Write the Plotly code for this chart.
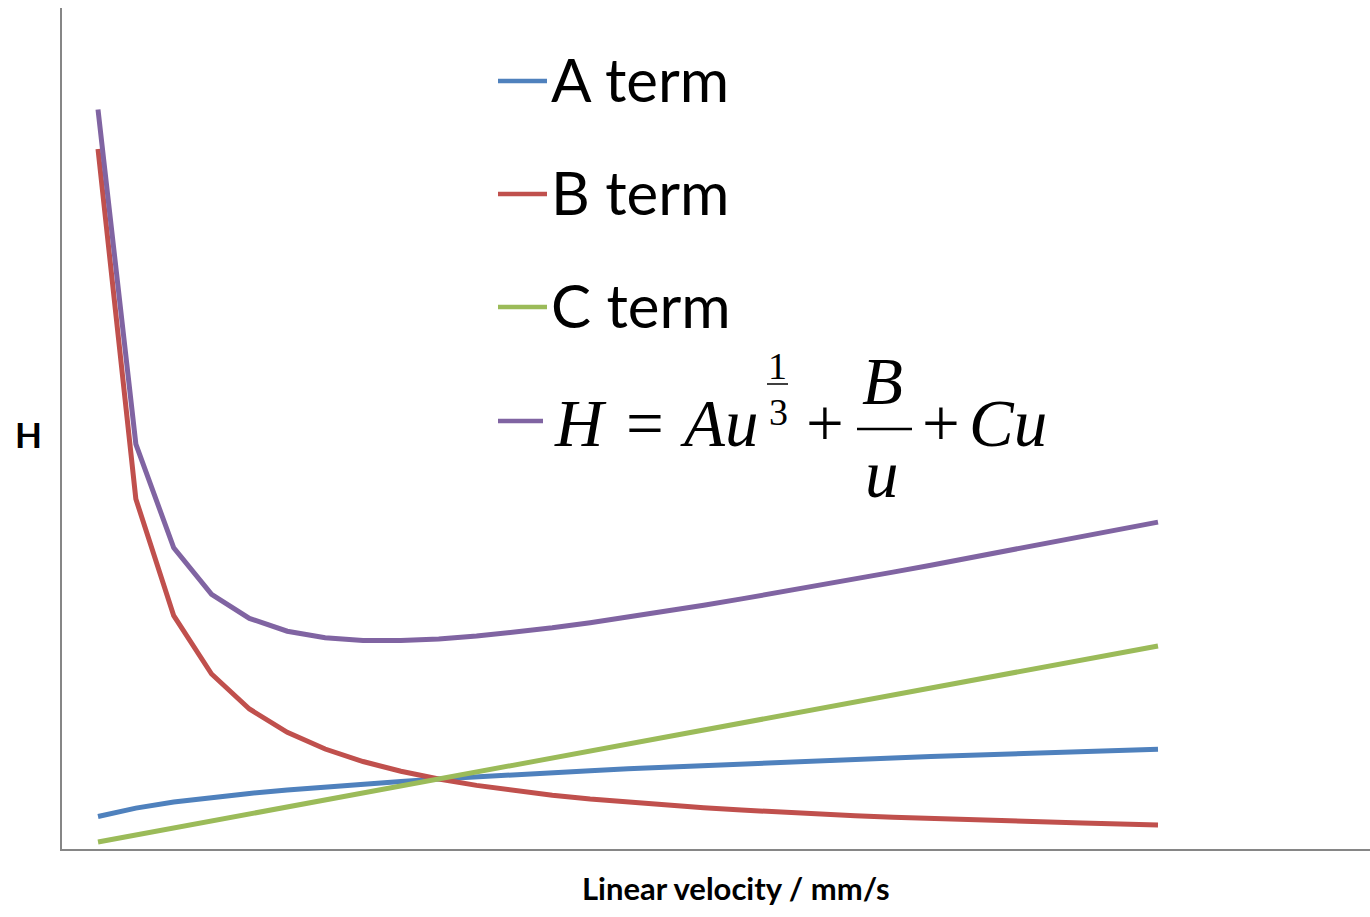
import plotly.graph_objects as go

# ---- data ----
velocity = list(range(1, 30))
a_term = [32.5, 40.9, 46.9, 51.6, 55.6, 59.1, 62.2, 65.0, 67.6, 70.0,
          72.3, 74.4, 76.4, 78.3, 80.2, 81.9, 83.6, 85.2, 86.7, 88.2,
          89.7, 91.1, 92.4, 93.7, 95.0, 96.3, 97.5, 98.7, 99.8]
b_term = [700.0, 350.0, 233.3, 175.0, 140.0, 116.7, 100.0, 87.5, 77.8, 70.0,
          63.6, 58.3, 53.8, 50.0, 46.7, 43.8, 41.2, 38.9, 36.8, 35.0,
          33.3, 31.8, 30.4, 29.2, 28.0, 26.9, 25.9, 25.0, 24.1]
c_term = [7, 14, 21, 28, 35, 42, 49, 56, 63, 70,
          77, 84, 91, 98, 105, 112, 119, 126, 133, 140,
          147, 154, 161, 168, 175, 182, 189, 196, 203]
h_total = [739.5, 404.9, 301.2, 254.6, 230.6, 217.8, 211.2, 208.5, 208.4, 210.0,
           212.9, 216.7, 221.2, 226.3, 231.9, 237.7, 243.8, 250.1, 256.5, 263.2,
           270.0, 276.9, 283.8, 290.9, 298.0, 305.2, 312.4, 319.7, 326.9]

series_names = ["A term", "B term", "C term", "H"]
series_colors = ["#4F81BD", "#C0504D", "#9BBB59", "#8064A2"]

W, H = 1370, 917
ML, MR, MT, MB = 62, 0, 8, 68
PW, PH = W - ML - MR, H - MT - MB


def px(x):
    return (x - ML) / PW


def py(y):
    return (H - MB - y) / PH


fig = go.Figure()
for name, ys, col in zip(series_names, [a_term, b_term, c_term, h_total], series_colors):
    fig.add_trace(go.Scatter(x=velocity, y=ys, mode="lines", name=name,
                             line=dict(color=col, width=5), showlegend=False))

shapes = []
annotations = []

# manual legend
sans = "Lato, 'Open Sans', sans-serif"
serif = "'Liberation Serif', 'Times New Roman', serif"
legend_rows = [("A term", series_colors[0], 81), ("B term", series_colors[1], 194),
               ("C term", series_colors[2], 307)]
for label, col, yy in legend_rows:
    shapes.append(dict(type="line", xref="paper", yref="paper",
                       x0=px(498), x1=px(547), y0=py(yy), y1=py(yy),
                       line=dict(color=col, width=4.5)))
    annotations.append(dict(text=label, xref="paper", yref="paper", x=px(549), y=py(yy - 2),
                            xanchor="left", yanchor="middle", showarrow=False,
                            font=dict(family=sans, size=60, color="black")))

shapes.append(dict(type="line", xref="paper", yref="paper",
                   x0=px(498), x1=px(543), y0=py(421), y1=py(421),
                   line=dict(color=series_colors[3], width=4.5)))

# formula H = A u^(1/3) + B/u + C u
def ftxt(text, x, y, size=67):
    annotations.append(dict(text=text, xref="paper", yref="paper", x=px(x), y=py(y),
                            xanchor="center", yanchor="middle", showarrow=False,
                            font=dict(family=serif, size=size, color="black")))

ftxt("<i>H</i>", 580, 423)
ftxt("=", 645, 423)
ftxt("<i>Au</i>", 719, 423)
ftxt("1", 777, 366, 38)
ftxt("3", 778, 412, 38)
ftxt("+", 825, 423)
ftxt("<i>B</i>", 882, 381)
ftxt("<i>u</i>", 882, 474)
ftxt("+", 941, 423)
ftxt("<i>Cu</i>", 1008, 423)
shapes.append(dict(type="line", xref="paper", yref="paper",
                   x0=px(767), x1=px(788), y0=py(384), y1=py(384),
                   line=dict(color="black", width=1.5)))
shapes.append(dict(type="line", xref="paper", yref="paper",
                   x0=px(857), x1=px(912), y0=py(429), y1=py(429),
                   line=dict(color="black", width=2.5)))

# axis titles
annotations.append(dict(text="<b>Linear velocity / mm/s</b>", xref="paper", yref="paper",
                        x=px(736), y=py(888), xanchor="center", yanchor="middle",
                        showarrow=False, font=dict(family=sans, size=31, color="black")))
annotations.append(dict(text="<b>H</b>", xref="paper", yref="paper",
                        x=px(28), y=py(434), xanchor="center", yanchor="middle",
                        showarrow=False, font=dict(family=sans, size=35, color="black")))

fig.update_layout(
    width=W, height=H,
    margin=dict(l=ML, r=MR, t=MT, b=MB),
    paper_bgcolor="white", plot_bgcolor="white",
    shapes=shapes, annotations=annotations,
    showlegend=False,
)
fig.update_xaxes(range=[0.049, 34.6], showgrid=False, zeroline=False, showticklabels=False,
                 ticks="", showline=True, linecolor="#868686", linewidth=2)
fig.update_yaxes(range=[0, PH], showgrid=False, zeroline=False, showticklabels=False,
                 ticks="", showline=True, linecolor="#868686", linewidth=2)

fig.write_html("out.html")
